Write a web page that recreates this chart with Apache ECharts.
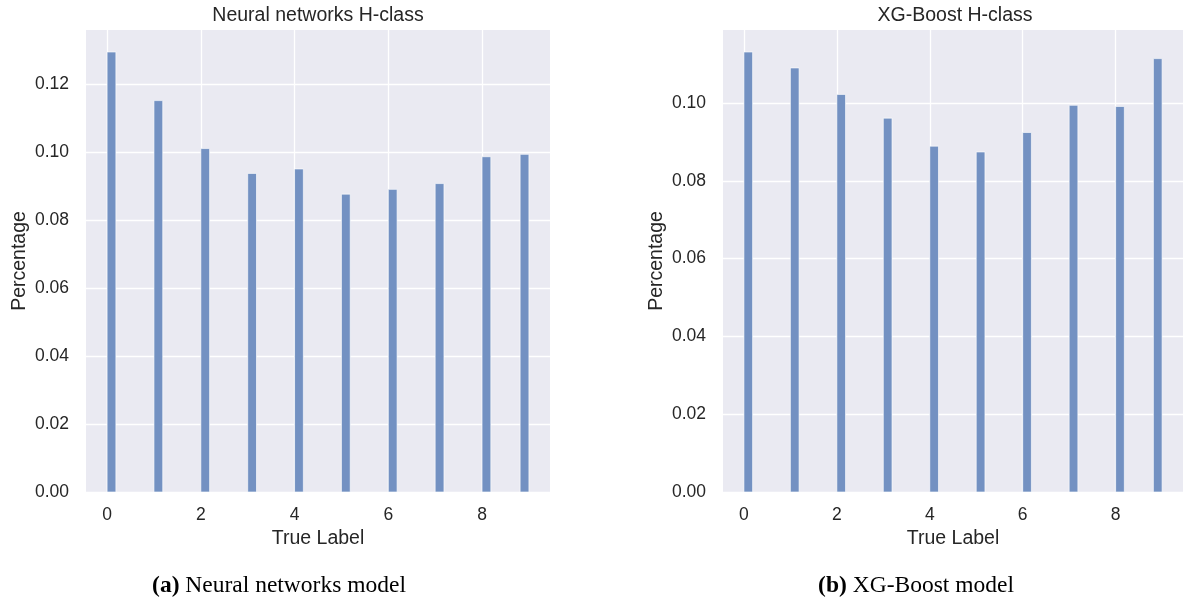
<!DOCTYPE html>
<html>
<head>
<meta charset="utf-8">
<script src="https://cdn.jsdelivr.net/npm/echarts@6/dist/echarts.min.js"></script>
<style>
html,body{margin:0;padding:0;background:#fff;}
#c{width:1183px;height:603px;}
</style>
</head>
<body>
<div id="c"></div>
<script>
// ---- data ----
const labels = [0, 1, 2, 3, 4, 5, 6, 7, 8, 9];
const nnValues = [0.1294, 0.1151, 0.1010, 0.0937, 0.0950, 0.0876, 0.0890, 0.0907, 0.0986, 0.0993];
const xgbValues = [0.1131, 0.1090, 0.1022, 0.0961, 0.0889, 0.0874, 0.0924, 0.0994, 0.0991, 0.1114];
const binWidth = 0.1875;
const titles = ['Neural networks H-class', 'XG-Boost H-class'];
const captionTags = ['(a)', '(b)'];
const captions = ['Neural networks model', 'XG-Boost model'];
const xTickValues = [0, 2, 4, 6, 8];

const chart = echarts.init(document.getElementById('c'), null, {renderer: 'canvas'});

const textColor = '#262626';
const sans = '"Liberation Sans", Arial, sans-serif';
const serif = '"Liberation Serif", "Times New Roman", serif';

function binData(vals) {
  const lastLabel = labels[labels.length - 1];
  return labels.map((l, i) => {
    const start = (l === lastLabel) ? l - binWidth : l;
    return [start, start + binWidth, vals[i]];
  });
}

function renderBar(params, api) {
  const x0 = api.value(0), x1 = api.value(1), v = api.value(2);
  const p0 = api.coord([x0, v]);
  const p1 = api.coord([x1, 0]);
  return {
    type: 'rect',
    shape: {x: p0[0], y: p0[1], width: p1[0] - p0[0], height: p1[1] - p0[1]},
    style: {fill: '#7391c2', stroke: 'rgba(255,255,255,0.8)', lineWidth: 0.8}
  };
}

const grids = [
  {left: 86, width: 464, top: 30, height: 462},
  {left: 723, width: 464, top: 30, height: 462}
];

function xAxis(idx) {
  return {
    type: 'value', gridIndex: idx, min: -0.45, max: 9.45,
    name: 'True Label', nameLocation: 'middle', nameGap: 34,
    nameTextStyle: {fontFamily: sans, fontSize: 19.5, color: textColor},
    axisLine: {show: false},
    axisTick: {show: false, customValues: xTickValues},
    axisLabel: {
      customValues: xTickValues,
      fontFamily: sans, fontSize: 17.5, color: textColor, margin: 14,
      formatter: v => String(Math.round(v))
    },
    splitLine: {show: true, lineStyle: {color: '#ffffff', width: 1.3}}
  };
}

function yAxis(idx, vals) {
  const maxV = Math.max.apply(null, vals) * 1.05;
  return {
    type: 'value', gridIndex: idx, min: 0, max: maxV, interval: 0.02,
    name: 'Percentage', nameLocation: 'middle', nameGap: 56,
    nameTextStyle: {fontFamily: sans, fontSize: 19.5, color: textColor},
    axisLine: {show: false}, axisTick: {show: false},
    axisLabel: {
      fontFamily: sans, fontSize: 17.5, color: textColor, margin: 17,
      showMaxLabel: false,
      formatter: v => v.toFixed(2)
    },
    splitLine: {show: true, showMaxLine: false, lineStyle: {color: '#ffffff', width: 1.3}}
  };
}

const centers = grids.map(g => g.left + g.width / 2);
const captionCenters = [279, 916];

const graphic = [];
titles.forEach((t, i) => {
  graphic.push({
    type: 'text', x: centers[i], y: 16,
    style: {text: t, fontFamily: sans, fontSize: 19.5, fill: textColor, align: 'center', verticalAlign: 'middle'}
  });
  graphic.push({
    type: 'text', x: captionCenters[i], y: 586,
    style: {
      text: '{b|' + captionTags[i] + '} ' + captions[i],
      fontFamily: serif, fontSize: 23.5, fill: '#000', align: 'center', verticalAlign: 'middle',
      rich: {b: {fontFamily: serif, fontSize: 23.5, fontWeight: 'bold', fill: '#000'}}
    }
  });
});

const option = {
  animation: false,
  backgroundColor: '#ffffff',
  grid: grids.map(g => Object.assign({show: true, backgroundColor: '#eaeaf2', borderWidth: 0, containLabel: false}, g)),
  xAxis: [xAxis(0), xAxis(1)],
  yAxis: [yAxis(0, nnValues), yAxis(1, xgbValues)],
  series: [
    {type: 'custom', xAxisIndex: 0, yAxisIndex: 0, renderItem: renderBar, data: binData(nnValues), encode: {x: [0, 1], y: 2}},
    {type: 'custom', xAxisIndex: 1, yAxisIndex: 1, renderItem: renderBar, data: binData(xgbValues), encode: {x: [0, 1], y: 2}}
  ],
  graphic: graphic
};
chart.setOption(option);
</script>
</body>
</html>
